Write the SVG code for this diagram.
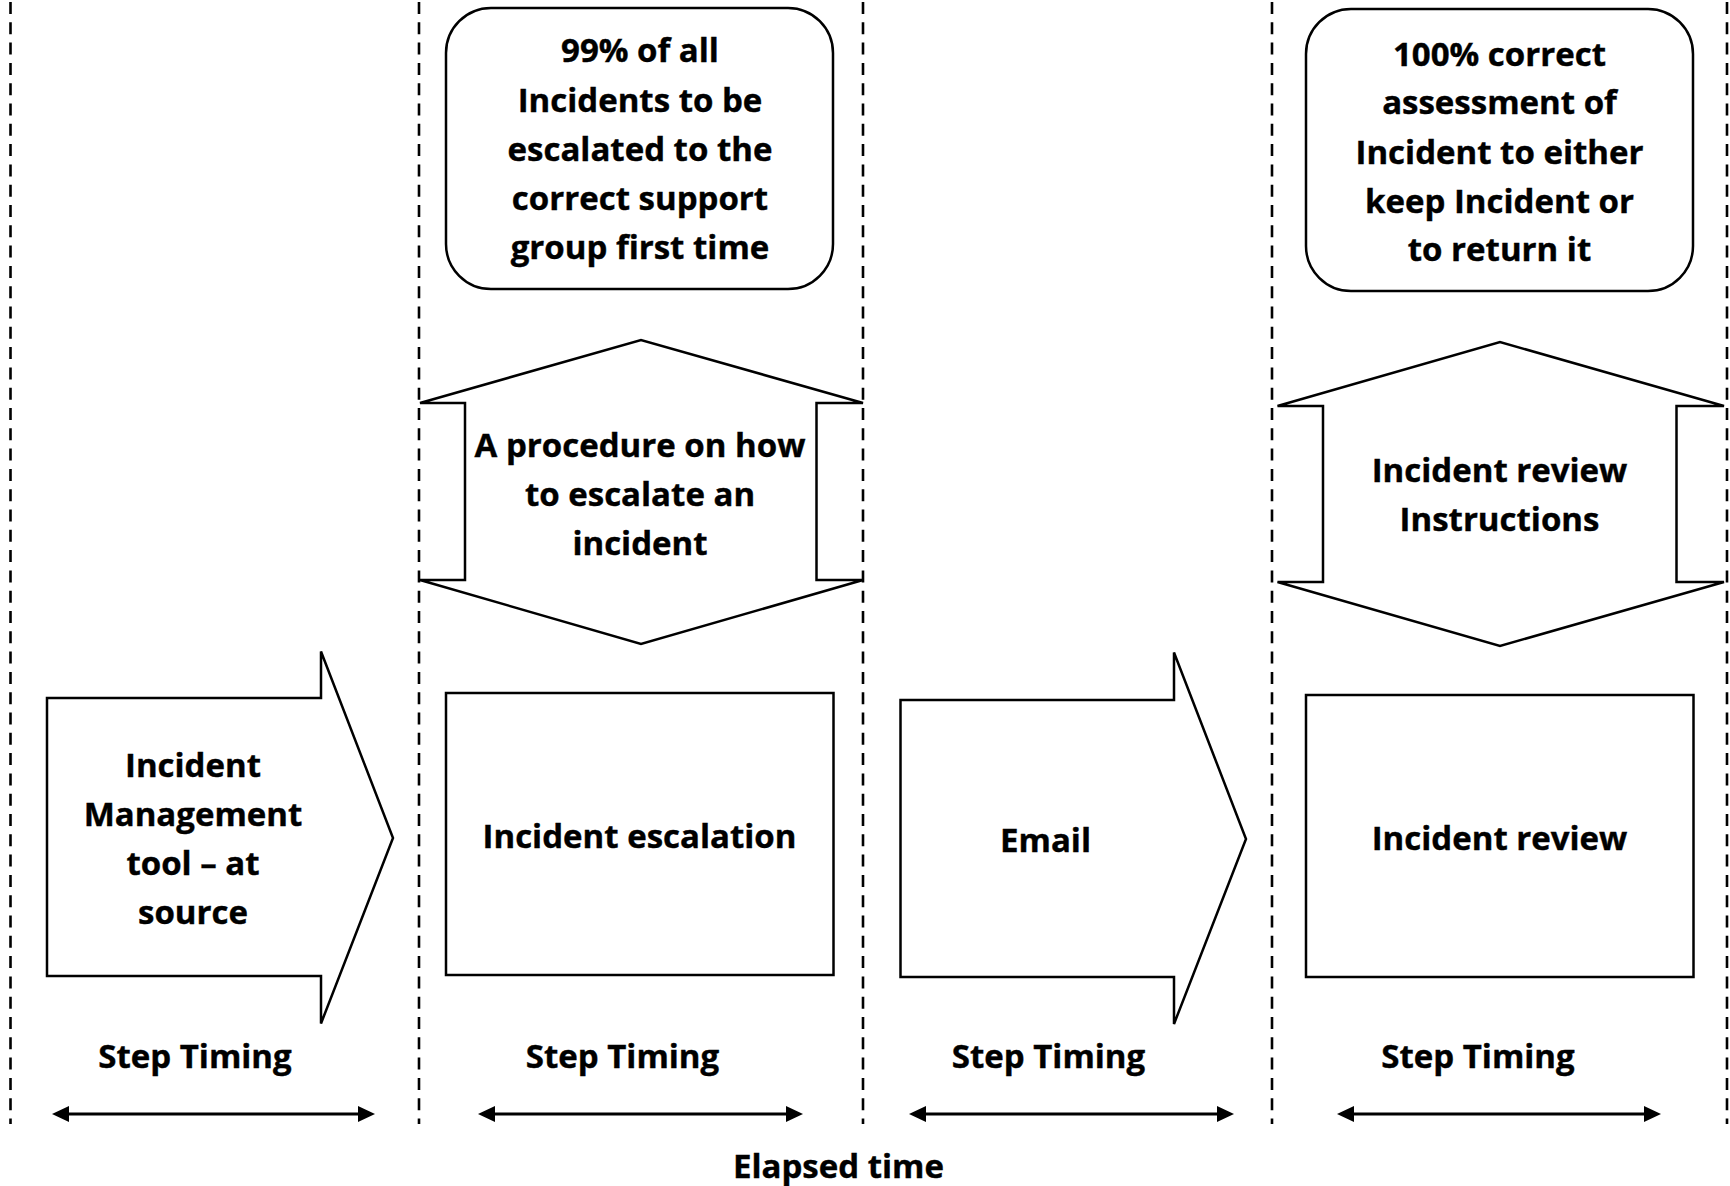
<svg xmlns="http://www.w3.org/2000/svg" width="1730" height="1186" viewBox="0 0 1730 1186">
  <style>
    .shape { fill: #ffffff; stroke: #000000; stroke-width: 2.5; stroke-linejoin: miter; }
    .lane { stroke: #000000; stroke-width: 2.6; stroke-dasharray: 12 8.3; fill: none; }
    .label { font-family: "Open Sans", "Noto Sans", "Liberation Sans", sans-serif; font-weight: 700; font-size: 33px; fill: #000000; stroke: #000000; stroke-width: 0.4; text-anchor: middle; }
    .span { stroke: #000000; stroke-width: 3; fill: none; marker-start: url(#tip); marker-end: url(#tip); }
  </style>
  <defs>
    <marker id="tip" viewBox="0 0 17 16" refX="7" refY="8" markerWidth="17" markerHeight="16" markerUnits="userSpaceOnUse" orient="auto-start-reverse">
      <path d="M0,0 L17,8 L0,16 Z" fill="#000000"/>
    </marker>
  </defs>

  <rect x="0" y="0" width="1730" height="1186" fill="#ffffff"/>

  <!-- column separators -->
  <g id="lanes">
    <line class="lane" x1="10.5" y1="2" x2="10.5" y2="1124"/>
    <line class="lane" x1="419" y1="2" x2="419" y2="1124"/>
    <line class="lane" x1="863" y1="2" x2="863" y2="1124"/>
    <line class="lane" x1="1272" y1="2" x2="1272" y2="1124"/>
    <line class="lane" x1="1727" y1="2" x2="1727" y2="1124"/>
  </g>

  <!-- targets -->
  <g id="target-escalation">
    <rect class="shape" x="446" y="8" width="387" height="281" rx="45" ry="45"/>
    <text class="label" x="640" y="62">99% of all</text>
    <text class="label" x="640" y="111.5">Incidents to be</text>
    <text class="label" x="640" y="160.5">escalated to the</text>
    <text class="label" x="640" y="210">correct support</text>
    <text class="label" x="640" y="259">group first time</text>
  </g>

  <g id="target-review">
    <rect class="shape" x="1306" y="9" width="387" height="282" rx="45" ry="45"/>
    <text class="label" x="1499.5" y="65.5">100% correct</text>
    <text class="label" x="1499.5" y="114">assessment of</text>
    <text class="label" x="1499.5" y="163.5">Incident to either</text>
    <text class="label" x="1499.5" y="212.5">keep Incident or</text>
    <text class="label" x="1499.5" y="261">to return it</text>
  </g>

  <!-- procedures -->
  <g id="procedure-escalation">
    <path class="shape" d="M420,403 L641,340 L863,403 L816.5,403 L816.5,580 L863,580 L641,644 L420,580 L465,580 L465,403 Z"/>
    <text class="label" x="640" y="456.5">A procedure on how</text>
    <text class="label" x="640" y="505.5">to escalate an</text>
    <text class="label" x="640" y="554.5">incident</text>
  </g>

  <g id="procedure-review">
    <path class="shape" d="M1277.5,406 L1500,342 L1724,406 L1676.5,406 L1676.5,582 L1724,582 L1500,646 L1277.5,582 L1323,582 L1323,406 Z"/>
    <text class="label" x="1499.5" y="482">Incident review</text>
    <text class="label" x="1499.5" y="531">Instructions</text>
  </g>

  <!-- process steps -->
  <g id="step-tool">
    <path class="shape" d="M47,698 L321,698 L321,651.5 L393,838 L321,1023.5 L321,976 L47,976 Z"/>
    <text class="label" x="193" y="777">Incident</text>
    <text class="label" x="193" y="826">Management</text>
    <text class="label" x="193" y="875">tool – at</text>
    <text class="label" x="193" y="924">source</text>
  </g>

  <g id="step-escalation">
    <rect class="shape" x="446" y="693" width="387.5" height="282"/>
    <text class="label" x="639.5" y="847.5">Incident escalation</text>
  </g>

  <g id="step-email">
    <path class="shape" d="M900.5,700 L1174,700 L1174,652.5 L1246,839 L1174,1024 L1174,977 L900.5,977 Z"/>
    <text class="label" x="1045.5" y="851.5">Email</text>
  </g>

  <g id="step-review">
    <rect class="shape" x="1306" y="695" width="387.5" height="282"/>
    <text class="label" x="1499.5" y="849.5">Incident review</text>
  </g>

  <!-- timing labels -->
  <g id="timing-labels">
    <text class="label" x="195" y="1067.5">Step Timing</text>
    <text class="label" x="622.5" y="1067.5">Step Timing</text>
    <text class="label" x="1048.5" y="1067.5">Step Timing</text>
    <text class="label" x="1478" y="1067.5">Step Timing</text>
    <text class="label" x="838.5" y="1178">Elapsed time</text>
  </g>

  <!-- timing spans -->
  <g id="connectors">
    <line class="span" x1="62" y1="1114" x2="365" y2="1114"/>
    <line class="span" x1="488" y1="1114" x2="793" y2="1114"/>
    <line class="span" x1="919" y1="1114" x2="1224" y2="1114"/>
    <line class="span" x1="1347" y1="1114" x2="1651" y2="1114"/>
  </g>
</svg>
